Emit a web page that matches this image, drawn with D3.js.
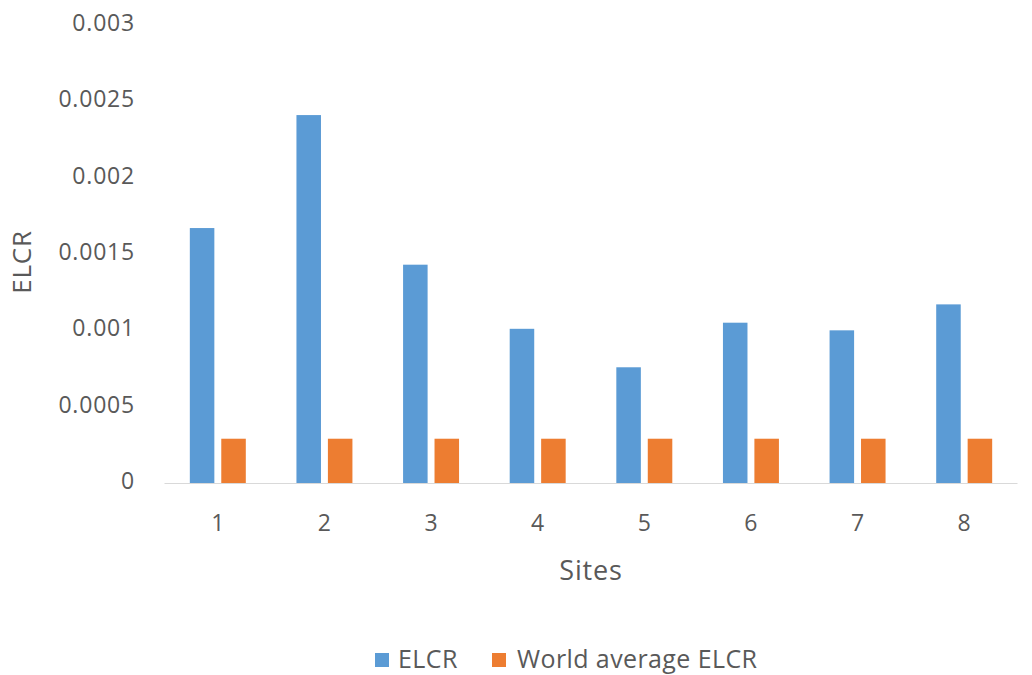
<!DOCTYPE html>
<html>
<head>
<meta charset="utf-8">
<script src="https://cdn.jsdelivr.net/npm/d3@7"></script>
<style>
  html, body { margin: 0; padding: 0; background: #fff; }
  svg { display: block; }
  text { font-family: "Open Sans", "Noto Sans", sans-serif; fill: #595959; }
</style>
</head>
<body>
<svg id="chart" width="1032" height="675"></svg>
<script>
const sites = ["1", "2", "3", "4", "5", "6", "7", "8"];
const elcr = [0.00167, 0.00241, 0.00143, 0.00101, 0.000758, 0.00105, 0.00100, 0.00117];
const worldAvg = [0.00029, 0.00029, 0.00029, 0.00029, 0.00029, 0.00029, 0.00029, 0.00029];
const seriesNames = ["ELCR", "World average ELCR"];
const seriesColors = ["#5B9BD5", "#ED7D31"];
const yTicks = [0, 0.0005, 0.001, 0.0015, 0.002, 0.0025, 0.003];
const yTickLabels = ["0", "0.0005", "0.001", "0.0015", "0.002", "0.0025", "0.003"];

const svg = d3.select("#chart");
const plotLeft = 164.5, plotRight = 1017.5, plotTop = 25, plotBottom = 483;

const x = d3.scaleBand().domain(sites).range([plotLeft, plotRight]).paddingInner(0.475).paddingOuter(0.2375);
const xs = d3.scaleBand().domain(seriesNames).range([0, x.bandwidth()]).paddingInner(0.22);
const y = d3.scaleLinear().domain([0, 0.003]).range([plotBottom, plotTop]);

// y tick labels
svg.append("g").selectAll("text").data(yTicks).join("text")
  .attr("x", 135).attr("y", d => y(d))
  .attr("text-anchor", "end").attr("dominant-baseline", "middle")
  .style("font-size", "23px").style("letter-spacing", "0.8px")
  .text((d, i) => yTickLabels[i]);

// bars
const data = sites.map((s, i) => ({ site: s, vals: [elcr[i], worldAvg[i]] }));
const groups = svg.append("g").selectAll("g").data(data).join("g")
  .attr("transform", d => `translate(${x(d.site)},0)`);
groups.selectAll("rect").data(d => d.vals.map((v, j) => ({ name: seriesNames[j], v, j })))
  .join("rect")
  .attr("x", d => xs(d.name)).attr("width", xs.bandwidth())
  .attr("y", d => y(d.v)).attr("height", d => y(0) - y(d.v))
  .attr("fill", d => seriesColors[d.j]);

// x axis line
svg.append("line").attr("x1", plotLeft).attr("x2", plotRight).attr("y1", y(0) + 0.5).attr("y2", y(0) + 0.5)
  .attr("stroke", "#D9D9D9").attr("stroke-width", 1.2);

// x labels
svg.append("g").selectAll("text").data(sites).join("text")
  .attr("x", d => x(d) + x.bandwidth() / 2).attr("y", 525)
  .attr("text-anchor", "middle").attr("dominant-baseline", "middle")
  .style("font-size", "23px")
  .text(d => d);

// axis titles
svg.append("text").attr("x", (plotLeft + plotRight) / 2).attr("y", 573)
  .attr("text-anchor", "middle").attr("dominant-baseline", "middle")
  .style("font-size", "27px").style("letter-spacing", "0.8px").text("Sites");
svg.append("text").attr("transform", "translate(24,262) rotate(-90)")
  .attr("text-anchor", "middle").attr("dominant-baseline", "middle")
  .style("font-size", "26px").style("letter-spacing", "0.8px").text("ELCR");

// legend
const legendPos = [375, 492];
const lg = svg.append("g").selectAll("g").data(seriesNames).join("g")
  .attr("transform", (d, i) => `translate(${legendPos[i]},0)`);
lg.append("rect").attr("x", 0).attr("y", 653).attr("width", 14).attr("height", 14)
  .attr("fill", (d, i) => seriesColors[i]);
lg.append("text").attr("x", (d, i) => i === 0 ? 23 : 25).attr("y", 668)
  .style("font-size", "25px").style("letter-spacing", "0.4px").text(d => d);
</script>
</body>
</html>
